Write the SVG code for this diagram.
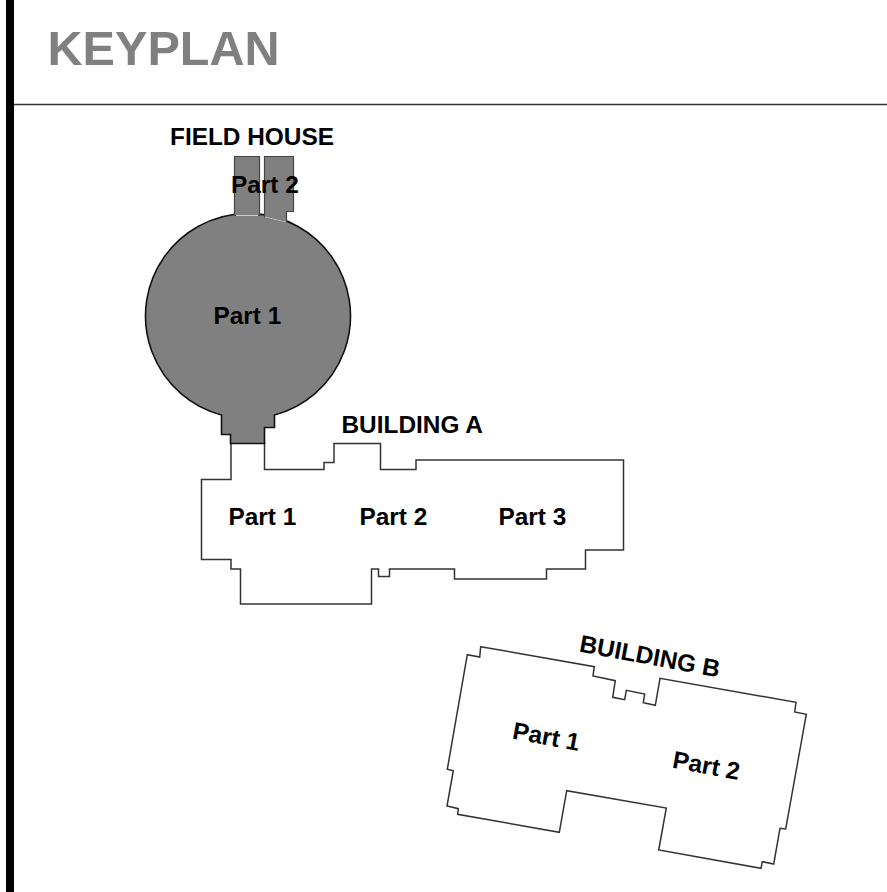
<svg xmlns="http://www.w3.org/2000/svg" width="887" height="892" viewBox="0 0 887 892">
<style>
text{font-family:"Liberation Sans",Arial,sans-serif;font-weight:bold;font-size:24.4px;fill:#000}
.title{font-size:48.6px;fill:#808080}
.bldg{fill:#fff;stroke:#333;stroke-width:1.5;stroke-linejoin:miter}
.fh{fill:#808080;stroke:#111;stroke-width:1.6}
.fh2{fill:#808080;stroke:#444;stroke-width:1.2}
.seam{fill:none;stroke:#ccc;stroke-width:1}
</style>
<rect width="887" height="892" fill="#fff"/>
<rect id="left-bar" x="6" y="0" width="8" height="892" fill="#000"/>
<line id="title-rule" x1="14" y1="104.5" x2="887" y2="104.5" stroke="#333" stroke-width="1.3"/>
<text class="title" x="47.5" y="65">KEYPLAN</text>
<g id="building-a">
<path class="bldg" d="M231 443V479.5H201.5V559.5H231V569H240.5V604H371.5V569H378.5V576.5H389.5V569H454.5V579H546.5V569H585.5V550H623.5V460H416V469.5H380.5V443.5H334V462.5H324V469.5H264.5V443Z"/>
<text x="228.5" y="525">Part 1</text>
<text x="359.5" y="525">Part 2</text>
<text x="498.5" y="525">Part 3</text>
<text x="341.5" y="433">BUILDING A</text>
</g>
<g id="field-house">
<path id="fh-part-1" class="fh" d="M221.5 415A102.5 102.5 0 1 1 274.5 415V427.5H264.5V443.5H230.5V434.5H221.5Z"/>
<path id="fh-part-2" class="fh2" d="M234.5 215.5V156.5H259.5V215.5ZM264.5 217V156.5H293.5V211.5H286.5V222Z"/>
<path class="seam" d="M236 215.5H258M265 217L286 222"/>
<text x="170" y="144.5">FIELD HOUSE</text>
<text x="231" y="193">Part 2</text>
<text x="213.5" y="324">Part 1</text>
</g>
<g id="building-b">
<path class="bldg" d="M480.7 646.7L594.3 666.7L593 676L615.3 680.7L612.7 697.3L624.7 699.7L626.3 690.3L644.7 694L643.3 702.7L655.3 705.3L660 678.3L796 702.3L794.7 712L806.3 714.3L785.7 829L780 828.3L773.7 864L762.3 861.7L761 868.3L658.7 850L666.3 808L566.7 790.7L559.3 832.3L457.7 814.3L458.3 808.7L447 806L453.3 770.7L447.3 769.3L467.3 654.7L479.7 657Z"/>
<text transform="translate(578.5 651.5) rotate(10.5)">BUILDING B</text>
<text transform="translate(511.5 738.5) rotate(10.5)">Part 1</text>
<text transform="translate(671.5 767.5) rotate(10.5)">Part 2</text>
</g>
</svg>
